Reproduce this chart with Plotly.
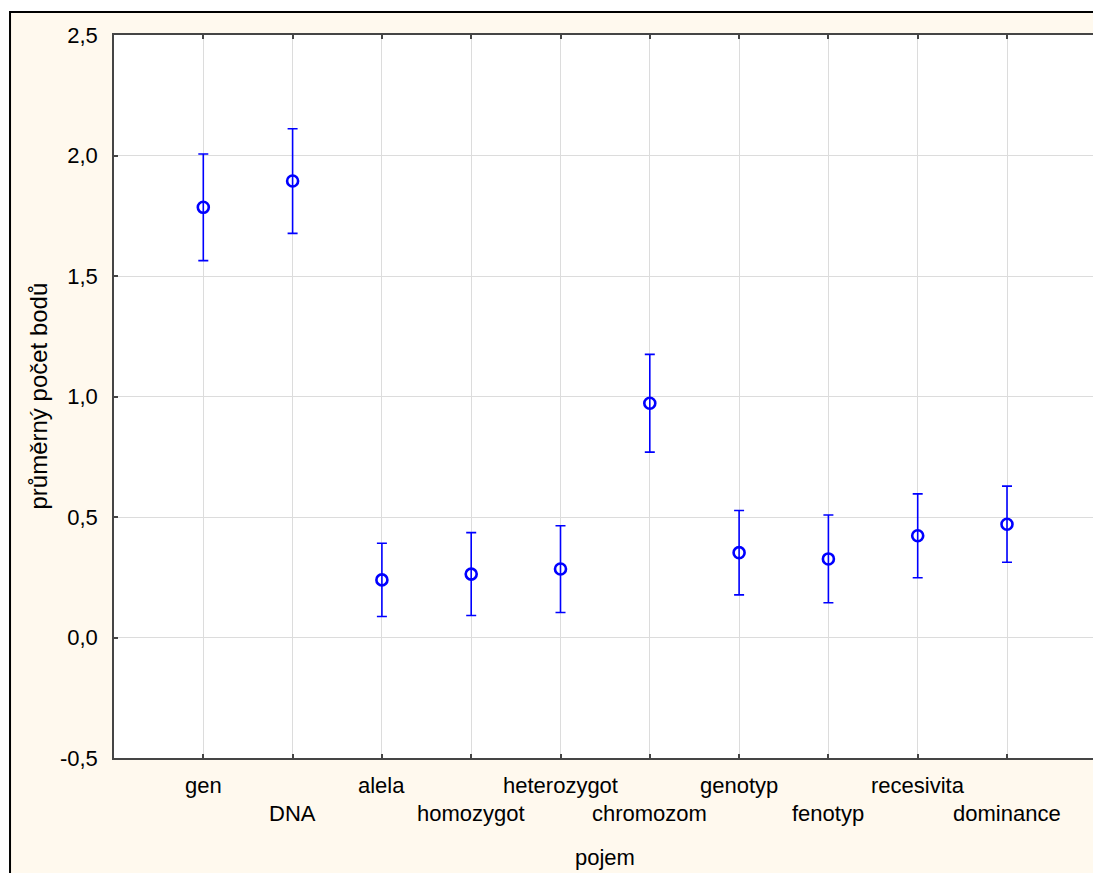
import plotly.graph_objects as go

# Mean score per concept with the half-width of its interval
pojmy = ["gen", "DNA", "alela", "homozygot", "heterozygot", "chromozom",
         "genotyp", "fenotyp", "recesivita", "dominance"]
prumer = [1.785, 1.894, 0.239, 0.263, 0.284, 0.972, 0.352, 0.326, 0.422, 0.470]
chyba = [0.221, 0.217, 0.152, 0.172, 0.180, 0.203, 0.175, 0.182, 0.174, 0.158]

y_ticks = [-0.5, 0.0, 0.5, 1.0, 1.5, 2.0, 2.5]
y_tick_text = ["-0,5", "0,0", "0,5", "1,0", "1,5", "2,0", "2,5"]

FONT = "Liberation Sans, Arial, sans-serif"
BLUE = "#0000FF"
AXIS = "#454545"
CREAM = "#FFF9EE"

idx = list(range(len(pojmy)))

fig = go.Figure()
fig.add_trace(go.Scatter(
    x=idx, y=prumer, mode="markers",
    marker=dict(symbol="circle-open", size=11, color=BLUE,
                line=dict(width=2.6, color=BLUE)),
    error_y=dict(type="data", array=chyba, visible=True,
                 color=BLUE, thickness=1.6, width=5),
    showlegend=False, hoverinfo="skip",
))

# category labels in two staggered rows under the axis
annotations = []
for i, name in enumerate(pojmy):
    annotations.append(dict(
        x=i, xref="x", y=0, yref="paper", yshift=-27 if i % 2 == 0 else -55,
        text=name, showarrow=False, xanchor="center", yanchor="middle",
        font=dict(family=FONT, size=22, color="black"),
    ))
# axis titles
annotations.append(dict(
    x=4.5, xref="x", y=0, yref="paper", yshift=-99,
    text="pojem", showarrow=False, xanchor="center", yanchor="middle",
    font=dict(family=FONT, size=22, color="black"),
))
annotations.append(dict(
    x=0, xref="paper", xshift=-76, y=0.5, yref="paper",
    text="průměrný počet bodů", textangle=-90, showarrow=False,
    xanchor="center", yanchor="middle",
    font=dict(family=FONT, size=24, color="black"),
))

shapes = [
    # framed cream panel behind the chart
    dict(type="rect", xref="paper", yref="paper",
         x0=-0.1062, x1=1.05, y0=-0.25, y1=1.0318,
         fillcolor=CREAM, line=dict(color="black", width=2), layer="below"),
    # white plotting area
    dict(type="rect", xref="paper", yref="paper",
         x0=0, x1=1, y0=0, y1=1,
         fillcolor="white", line=dict(width=0), layer="below"),
]

fig.update_layout(
    width=1093, height=873,
    margin=dict(l=114, r=0, t=35, b=115),
    paper_bgcolor="white", plot_bgcolor="white",
    font=dict(family=FONT, size=22, color="black"),
    annotations=annotations, shapes=shapes,
    separators=", ",
    xaxis=dict(
        range=[-1, 9.963], tickmode="array", tickvals=idx,
        showticklabels=False, showgrid=True, gridcolor="#DCDCDC", gridwidth=1,
        zeroline=False, showline=True, linecolor=AXIS, linewidth=1.5,
        mirror="ticks", ticks="inside", ticklen=4, tickcolor=AXIS, tickwidth=1.5,
    ),
    yaxis=dict(
        range=[-0.5, 2.5], tickmode="array", tickvals=y_ticks, ticktext=y_tick_text,
        showgrid=True, gridcolor="#DCDCDC", gridwidth=1,
        zeroline=False, showline=True, linecolor=AXIS, linewidth=1.5,
        ticks="inside", ticklen=4, tickcolor=AXIS, tickwidth=1.5,
        ticklabelstandoff=10,
        tickfont=dict(family=FONT, size=22, color="black"),
    ),
)

fig.write_html("out.html")
